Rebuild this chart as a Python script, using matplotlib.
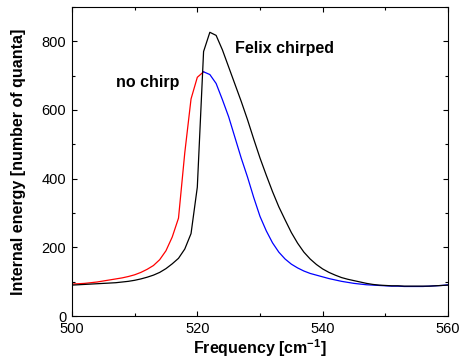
#!/usr/bin/env python3

import matplotlib
matplotlib.use("Agg")
import matplotlib.pyplot as plt
from matplotlib.ticker import MultipleLocator

# frequency grid [cm^-1]
freq = list(range(500, 561))

# internal energy, no chirp (red below the peak, blue above)
no_chirp = [93, 94, 95, 97, 99, 102, 105, 108, 111, 115,
            120, 127, 136, 147, 164, 190, 230, 285, 475, 632,
            695, 711, 703, 677, 630, 580, 520, 460, 405, 345,
            290, 248, 213, 186, 166, 151, 140, 131, 124, 119,
            114, 109, 105, 101, 98, 95, 93, 91, 90, 89,
            88, 87, 87, 86, 86, 86, 86, 87, 88, 89, 91]

# internal energy, Felix chirped
chirped = [90, 91, 92, 93, 94, 95, 96, 97, 99, 101,
           104, 108, 113, 119, 127, 138, 152, 168, 195, 240,
           375, 770, 826, 817, 775, 725, 675, 625, 572, 515,
           460, 410, 362, 318, 280, 243, 212, 186, 166, 150,
           137, 127, 119, 112, 107, 103, 99, 95, 92, 90,
           89, 88, 88, 87, 87, 87, 87, 87, 88, 89, 90]

peak_freq = 521
xticks = [500, 520, 540, 560]
yticks = [0, 200, 400, 600, 800]

plt.rcParams['font.family'] = ['Liberation Sans', 'DejaVu Sans']
plt.rcParams['mathtext.fontset'] = 'custom'
plt.rcParams['mathtext.rm'] = 'Liberation Sans:bold'
plt.rcParams['mathtext.bf'] = 'Liberation Sans:bold'
plt.rcParams['mathtext.default'] = 'bf'

fig = plt.figure(figsize=(4.61, 3.62), dpi=100)
ax = fig.add_axes([0.156, 0.127, 0.816, 0.854])

i = freq.index(peak_freq)
ax.plot(freq[:i + 1], no_chirp[:i + 1], color='red', lw=0.9)
ax.plot(freq[i:], no_chirp[i:], color='blue', lw=0.9)
ax.plot(freq, chirped, color='black', lw=0.9)

ax.text(507.0, 681, 'no chirp', fontsize=11.5, fontweight='bold', va='center')
ax.text(526.0, 778, 'Felix chirped', fontsize=11.5, fontweight='bold', va='center')

ax.set_xlim(500, 560)
ax.set_ylim(0, 900)
ax.set_xticks(xticks)
ax.set_yticks(yticks)
ax.xaxis.set_minor_locator(MultipleLocator(10))
ax.yaxis.set_minor_locator(MultipleLocator(100))
ax.tick_params(which='both', direction='in', top=True, right=True,
               labelsize=10.5, width=0.8)
ax.tick_params(which='major', length=3.5, pad=4)
ax.tick_params(which='minor', length=2.5)

ax.set_xlabel(r'Frequency [cm$^{-1}$]', fontsize=11.5, fontweight='bold', labelpad=1)
ax.set_ylabel('Internal energy [number of quanta]', fontsize=11.5,
              fontweight='bold', labelpad=11)

fig.savefig('out.png', dpi=100)
